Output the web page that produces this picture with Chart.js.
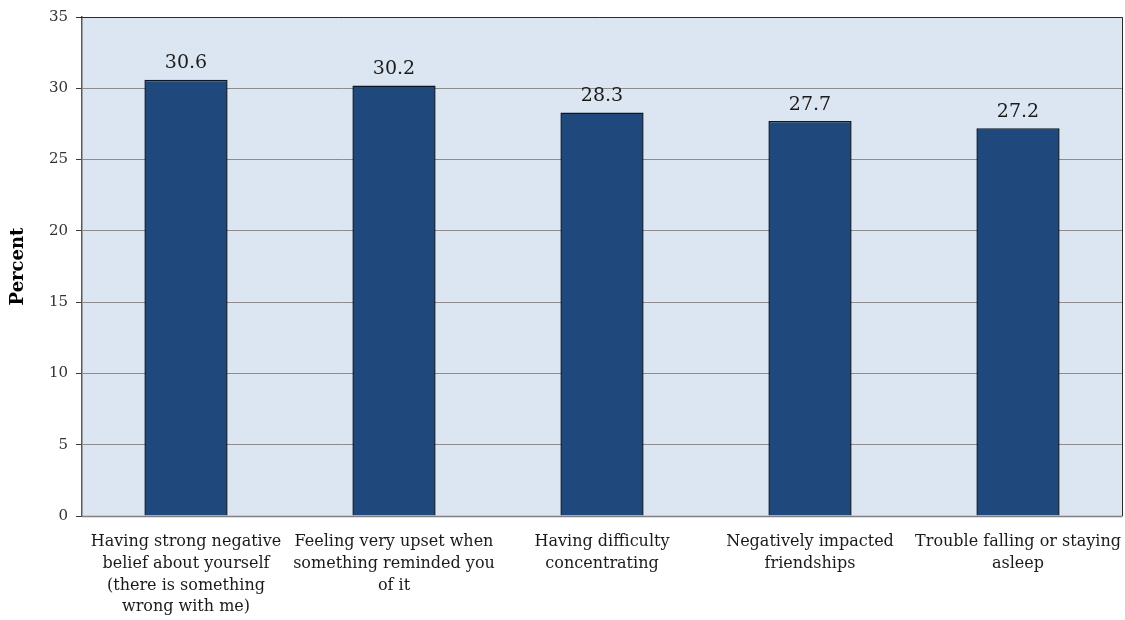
<!DOCTYPE html>
<html>
<head>
<meta charset="utf-8">
<script src="https://cdn.jsdelivr.net/npm/chart.js@4.4.1/dist/chart.umd.min.js"></script>
<style>
  html, body { margin: 0; padding: 0; background: #ffffff; }
  #wrap { width: 1125px; height: 620px; }
</style>
</head>
<body>
<div id="wrap"><canvas id="percentChart" width="1125" height="620"></canvas></div>
<script>
const categories = [
    ['Having strong negative', 'belief about yourself', '(there is something', 'wrong with me)'],
    ['Feeling very upset when', 'something reminded you', 'of it'],
    ['Having difficulty', 'concentrating'],
    ['Negatively impacted', 'friendships'],
    ['Trouble falling or staying', 'asleep']
];
const percentValues = [30.6, 30.2, 28.3, 27.7, 27.2];
const yTicks = [0, 5, 10, 15, 20, 25, 30, 35];

const serif = "'DejaVu Serif', serif";
const plotBg = '#dce6f2';
const barColor = '#1f497d';

// light blue plot area + outer frame
const plotAreaPlugin = {
    id: 'plotArea',
    beforeDraw(chart) {
        const { ctx, chartArea: a } = chart;
        ctx.save();
        ctx.fillStyle = plotBg;
        ctx.fillRect(a.left, a.top, a.right - a.left, a.bottom - a.top);
        ctx.restore();
    },
    afterDatasetsDraw(chart) {
        const { ctx, chartArea: a } = chart;
        ctx.save();
        ctx.strokeStyle = '#2a2a2a';
        ctx.lineWidth = 1;
        ctx.beginPath();
        ctx.moveTo(a.left - 5, a.top + 0.5);
        ctx.lineTo(a.right + 0.5, a.top + 0.5);
        ctx.lineTo(a.right + 0.5, a.bottom);
        ctx.stroke();
        ctx.strokeStyle = '#7f7f7f';
        ctx.lineWidth = 1.5;
        ctx.beginPath();
        ctx.moveTo(a.left, a.bottom + 0.5);
        ctx.lineTo(a.right + 0.5, a.bottom + 0.5);
        ctx.stroke();
        ctx.restore();
    }
};

// value labels above the bars
const valueLabelPlugin = {
    id: 'valueLabels',
    afterDatasetsDraw(chart) {
        const { ctx } = chart;
        const meta = chart.getDatasetMeta(0);
        ctx.save();
        ctx.fillStyle = '#1a1a1a';
        ctx.font = "19px " + serif;
        ctx.textAlign = 'center';
        ctx.textBaseline = 'bottom';
        meta.data.forEach((bar, i) => {
            ctx.fillText(percentValues[i].toFixed(1), bar.x, bar.y - 7);
        });
        ctx.restore();
    }
};

const ctx = document.getElementById('percentChart').getContext('2d');
new Chart(ctx, {
    type: 'bar',
    data: {
        labels: categories,
        datasets: [{
            data: percentValues,
            backgroundColor: barColor,
            borderColor: '#0b1726',
            borderWidth: 1.5,
            categoryPercentage: 0.8,
            barPercentage: 0.5
        }]
    },
    options: {
        responsive: false,
        animation: false,
        layout: { padding: { left: 0, right: 3, top: 14, bottom: 0 } },
        plugins: {
            legend: { display: false },
            tooltip: { enabled: false }
        },
        scales: {
            x: {
                grid: { display: false, drawTicks: false },
                border: { display: false },
                ticks: {
                    color: '#1a1a1a',
                    font: { family: serif, size: 16, lineHeight: 1.36 },
                    padding: 15,
                    maxRotation: 0,
                    autoSkip: false
                },
                afterFit(scale) {
                    scale.height = 104;
                    scale.paddingLeft = 0;
                    scale.paddingRight = 0;
                }
            },
            y: {
                min: 0,
                max: 35,
                afterBuildTicks(scale) { scale.ticks = yTicks.map(v => ({ value: v })); },
                grid: {
                    color: '#8c8c8c',
                    lineWidth: 1,
                    drawTicks: true,
                    tickLength: 6,
                    tickColor: '#3a3a3a'
                },
                border: { display: true, color: '#5a5a5a', width: 1.5 },
                ticks: {
                    color: '#333333',
                    font: { family: serif, size: 15 },
                    padding: 8
                },
                title: {
                    display: true,
                    text: 'Percent',
                    color: '#000000',
                    font: { family: serif, size: 18, weight: 'bold' },
                    padding: { top: 8, bottom: 0 }
                },
                afterFit(scale) { scale.width = 82; }
            }
        }
    },
    plugins: [plotAreaPlugin, valueLabelPlugin]
});
</script>
</body>
</html>
